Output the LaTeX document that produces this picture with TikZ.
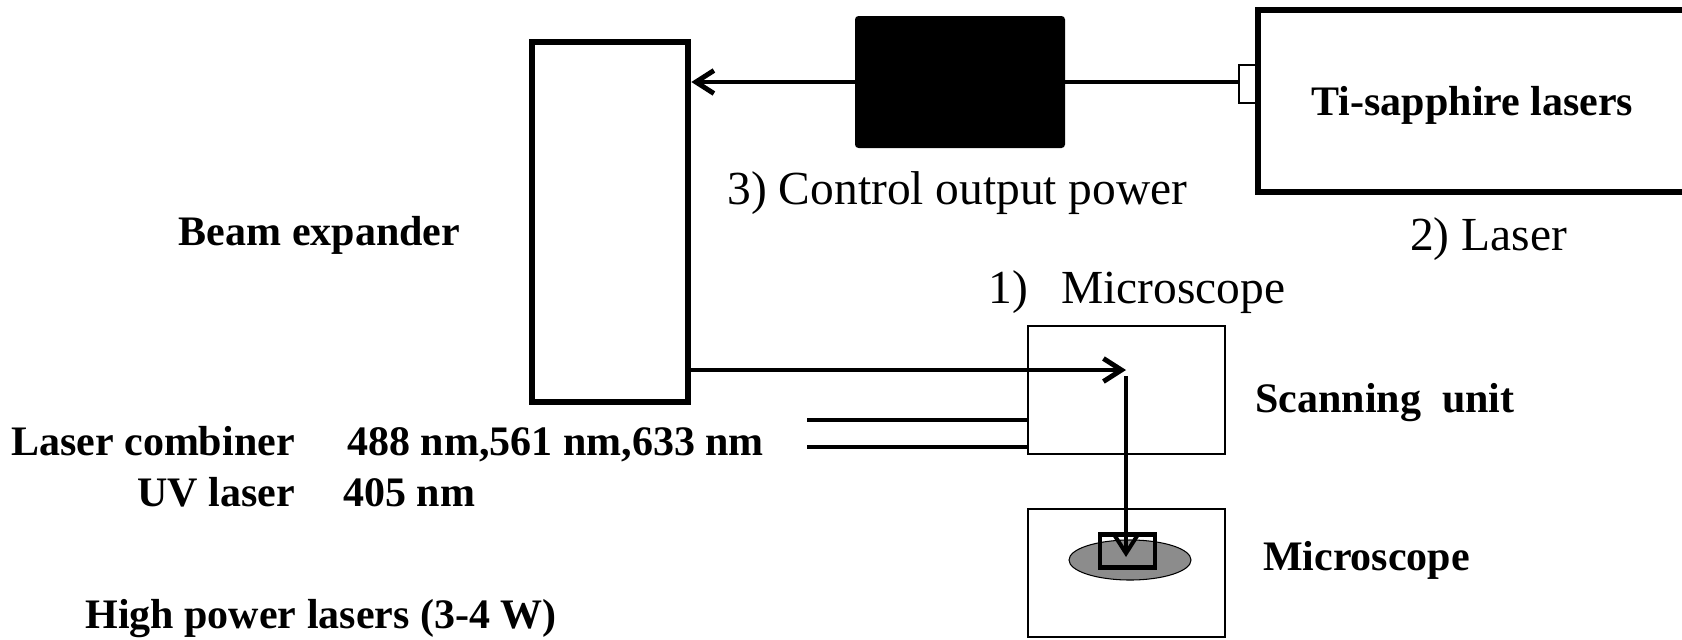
\documentclass[tikz,border=0pt]{standalone}
\usepackage{fontspec}
\setmainfont{Liberation Serif}
\usetikzlibrary{arrows.meta, shapes.geometric}

\begin{document}
\begin{tikzpicture}[
    boldtxt/.style={font=\fontsize{23.9}{28}\selectfont\bfseries, inner sep=0pt, anchor=base},
    plaintxt/.style={font=\fontsize{27}{32}\selectfont, inner sep=0pt, anchor=base},
    beam/.style={line width=2.8pt, ->, >={Straight Barb[length=0.36cm, width=0.46cm]}},
    fiber/.style={line width=2.3pt},
    unitbox/.style={draw, line width=1.1pt, minimum width=3.94cm, minimum height=2.56cm}
]
    \useasboundingbox (0, 0) rectangle (33.64, -12.78);
    \node[draw, line width=3.8pt, minimum width=3.12cm, minimum height=7.2cm] (BE) at (12.2, -4.44) {};
    \node[fill=black, rounded corners=2pt, minimum width=4.2cm, minimum height=2.64cm] (PW) at (19.2, -1.64) {};
    \node[draw, line width=3.2pt, minimum width=8.58cm, minimum height=3.64cm, text depth=0pt, font=\fontsize{23.9}{28}\selectfont\bfseries] (TS) at (29.45, -2.02) {Ti-sapphire lasers};
    \node[draw, line width=1.1pt, minimum width=0.34cm, minimum height=0.76cm] (PT) at (24.95, -1.68) {};
    \draw[line width=2.8pt] (PW.east) -- (PW.east -| PT.west);
    \draw[beam] (PW.west) -- (PW.west -| BE.east);
    \node[unitbox] (SU) at (22.53, -7.8) {};
    \node[unitbox] (MS) at (22.53, -11.46) {};
    \node[ellipse, draw, fill=black!45, line width=0.6pt, minimum width=2.44cm, minimum height=0.8cm] (EL) at (22.6, -11.2) {};
    \node[draw, line width=2.8pt, minimum width=1.1cm, minimum height=0.66cm] (SQ) at (22.55, -11.02) {};
    \coordinate (M) at (22.52, -7.4);
    \coordinate (F) at (22.52, -11.14);
    \draw[beam] (BE.east |- M) -- (M);
    \draw[beam, line width=2.3pt] ([yshift=-0.12cm]M) -- (F);
    \coordinate (C1) at (16.14, -8.4);
    \coordinate (C2) at (16.14, -8.94);
    \draw[fiber] (C1) -- (C1 -| SU.west);
    \draw[fiber] (C2) -- (C2 -| SU.west);
    \node[boldtxt] (BX) at (6.39, -4.9) {Beam expander};
    \node[plaintxt] (CP) at (19.15, -4.08) {3) Control output power};
    \node[plaintxt] (LS) at (29.77, -5.0) {2) Laser};
    \node[plaintxt] (MC) at (22.74, -6.06) {1)\hspace{0.7em}Microscope};
    \node[boldtxt] (SC) at (27.7, -8.24) {Scanning\ \ unit};
    \node[boldtxt] (MI) at (27.33, -11.4) {Microscope};
    \node[boldtxt, anchor=base east] (LC) at (5.9, -9.1) {Laser combiner};
    \node[boldtxt, anchor=base west] (WL) at (6.94, -9.1) {488 nm,561 nm,633 nm};
    \node[boldtxt, anchor=base east] (UV) at (5.9, -10.12) {UV laser};
    \node[boldtxt, anchor=base west] (UW) at (6.86, -10.12) {405 nm};
    \node[boldtxt] (HP) at (6.42, -12.56) {High power lasers (3-4 W)};
\end{tikzpicture}
\end{document}
